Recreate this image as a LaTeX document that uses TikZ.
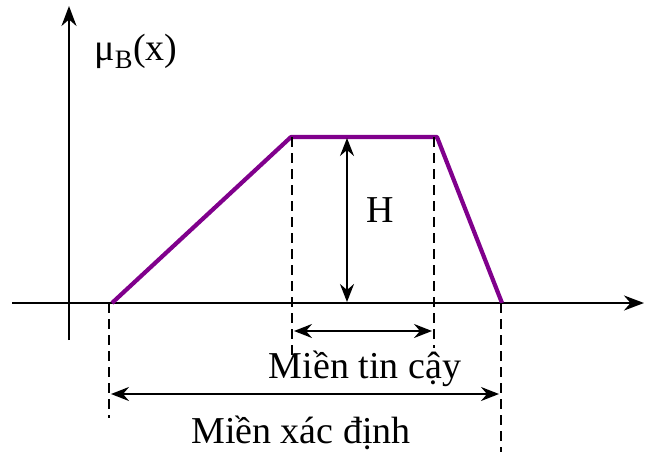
\documentclass[tikz,border=0pt]{standalone}
\usepackage{fontspec}
\setmainfont{Liberation Serif}
\usetikzlibrary{arrows.meta}

\begin{document}
\begin{tikzpicture}[
  x=1pt, y=-1pt,
  axis/.style={line width=2.2pt, -{Stealth[length=20pt, width=15pt]}},
  member/.style={line width=4.2pt, draw=memberpurple, line join=round},
  guide/.style={line width=2.8pt, dash pattern=on 10pt off 6pt},
  span/.style={line width=2pt, {Stealth[length=18pt, width=14pt, inset=6pt]}-{Stealth[length=18pt, width=14pt, inset=6pt]}},
  every node/.style={font=\fontsize{38}{44}\selectfont, inner sep=0pt},
]
\definecolor{memberpurple}{RGB}{128,0,140}
\useasboundingbox (0,0) rectangle (652,452);

%% ============ AXES ============
\coordinate (origin) at (69,303);
\coordinate (xend) at (644,303);
\coordinate (xstart) at (12,303);
\coordinate (yend) at (69,6);
\coordinate (ystart) at (69,340);
\draw[axis] (xstart) -- (xend);
\draw[axis] (ystart) -- (yend);
\node[anchor=base] (ylabel) at (136,60) {μ\textsubscript{B}(x)};

%% ============ TRAPEZOID ============
\coordinate (a) at (112,303);
\coordinate (b) at (291,137);
\coordinate (c) at (437,137);
\coordinate (d) at (502,303);
\draw[member] (a) -- (b) -- (c) -- (d);

%% ---- dashed guides ----
\coordinate (bt) at (292,137);
\coordinate (bb) at (292,355);
\coordinate (ct) at (434,137);
\coordinate (cb) at (434,348);
\coordinate (at) at (109,303);
\coordinate (ab) at (109,418);
\coordinate (dt) at (501,303);
\coordinate (db) at (501,452);
\draw[guide] (bt) -- (bb);
\draw[guide] (ct) -- (cb);
\draw[guide] (at) -- (ab);
\draw[guide] (dt) -- (db);

%% ============ HEIGHT ============
\coordinate (htop) at (347,138);
\coordinate (hbot) at (347,302);
\draw[span] (htop) -- (hbot);
\node[anchor=base] (hlabel) at (380,222) {H};

%% ============ SUPPORT / CORE ============
\coordinate (coreL) at (294,331);
\coordinate (coreR) at (432,331);
\draw[span] (coreL) -- (coreR);
\node[anchor=base] (corelabel) at (365,378) {Miền tin cậy};

\coordinate (suppL) at (111,394);
\coordinate (suppR) at (499,394);
\draw[span] (suppL) -- (suppR);
\node[anchor=base] (supplabel) at (301,443) {Miền xác định};

\end{tikzpicture}
\end{document}
